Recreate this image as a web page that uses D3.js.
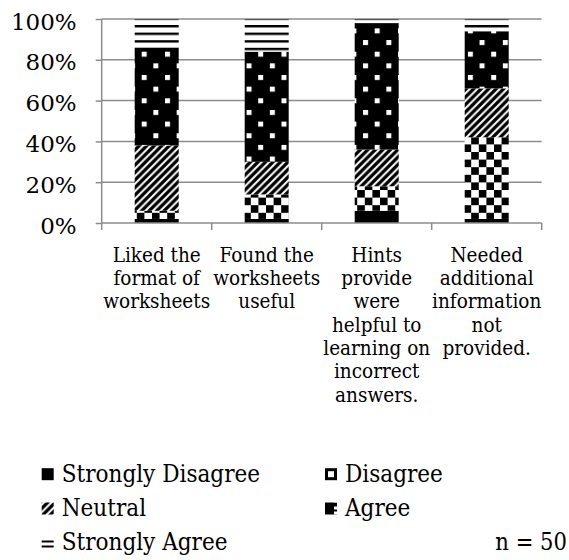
<!DOCTYPE html>
<html><head><meta charset="utf-8">
<script src="https://cdn.jsdelivr.net/npm/d3@7"></script>
<style>body{margin:0;background:#fff}svg{display:block}</style>
</head><body><svg id="c" width="569" height="560"></svg>
<script>
// ---- data ----
const categories = ["Liked the format of worksheets","Found the worksheets useful","Hints provide were helpful to learning on incorrect answers.","Needed additional information not provided."];
const categoryLines = [
  ["Liked the","format of","worksheets"],
  ["Found the","worksheets","useful"],
  ["Hints","provide","were","helpful to","learning on","incorrect","answers."],
  ["Needed","additional","information","not","provided."]
];
const seriesNames = ["Strongly Disagree","Disagree","Neutral","Agree","Strongly Agree"];
const stronglyDisagree = [2, 2, 6, 2];
const disagree        = [4, 12, 12, 40];
const neutral         = [32, 16, 18, 24];
const agree           = [48, 54, 62, 28];
const stronglyAgree   = [14, 16, 2, 6];
const yTicks = [0, 20, 40, 60, 80, 100];
const note = "n = 50";

// ---- build table ----
const seriesValues = [stronglyDisagree, disagree, neutral, agree, stronglyAgree];
const table = categories.map((c, i) => {
  const row = {cat: c};
  seriesNames.forEach((s, k) => row[s] = seriesValues[k][i]);
  return row;
});
const stacked = d3.stack().keys(seriesNames)(table);

const svg = d3.select("#c");
const FONT = "'DejaVu Serif', serif";
const FONTC = "'DejaVu Serif Condensed', 'DejaVu Serif', serif";
const gridColor = "#8c8c8c";

// ---- patterns ----
const defs = svg.append("defs");
const cs = 7.6;
const pD = defs.append("pattern").attr("id","pD").attr("patternUnits","userSpaceOnUse")
  .attr("width", cs*2).attr("height", cs*2).attr("x", 0).attr("y", 0);
pD.append("rect").attr("width", cs*2).attr("height", cs*2).attr("fill","#fff");
pD.append("rect").attr("width", cs).attr("height", cs).attr("fill","#000");
pD.append("rect").attr("x", cs).attr("y", cs).attr("width", cs).attr("height", cs).attr("fill","#000");
const ds = 7.5;
const pN = defs.append("pattern").attr("id","pN").attr("patternUnits","userSpaceOnUse")
  .attr("width", ds).attr("height", ds);
pN.append("rect").attr("width", ds).attr("height", ds).attr("fill","#fff");
pN.append("path").attr("d", `M-1.5,1.5 L1.5,-1.5 M0,${ds} L${ds},0 M${ds-1.5},${ds+1.5} L${ds+1.5},${ds-1.5}`)
  .attr("stroke","#000").attr("stroke-width", 3.3);
const as = 23.3;
const pA = defs.append("pattern").attr("id","pA").attr("patternUnits","userSpaceOnUse")
  .attr("width", as).attr("height", as).attr("x", 141.7).attr("y", 51.7);
pA.append("rect").attr("width", as).attr("height", as).attr("fill","#000");
pA.append("rect").attr("width", 5).attr("height", 5).attr("fill","#fff");
pA.append("rect").attr("x", as/2).attr("y", as/2).attr("width", 5).attr("height", 5).attr("fill","#fff");
const hs = 7.6;
const pSA = defs.append("pattern").attr("id","pSA").attr("patternUnits","userSpaceOnUse")
  .attr("width", 10).attr("height", hs).attr("x", 0).attr("y", 17.4);
pSA.append("rect").attr("width", 10).attr("height", hs).attr("fill","#fff");
pSA.append("rect").attr("width", 10).attr("height", 2.4).attr("fill","#000");

// legend-icon patterns (small)
const pLD = defs.append("pattern").attr("id","pLD").attr("patternUnits","objectBoundingBox")
  .attr("width", 1).attr("height", 1);
pLD.append("rect").attr("width", 12).attr("height", 12).attr("fill","#000");
pLD.append("rect").attr("x", 3).attr("y", 3).attr("width", 6).attr("height", 6).attr("fill","#fff");
const pLA = defs.append("pattern").attr("id","pLA").attr("patternUnits","objectBoundingBox")
  .attr("width", 1).attr("height", 1);
pLA.append("rect").attr("width", 12).attr("height", 12).attr("fill","#000");
pLA.append("rect").attr("x", 9).attr("y", 4).attr("width", 3).attr("height", 3).attr("fill","#fff");
pLA.append("rect").attr("x", 9).attr("y", 9).attr("width", 3).attr("height", 3).attr("fill","#fff");
const pLSA = defs.append("pattern").attr("id","pLSA").attr("patternUnits","objectBoundingBox")
  .attr("width", 1).attr("height", 1);
pLSA.append("rect").attr("width", 12).attr("height", 12).attr("fill","#fff");
pLSA.append("rect").attr("y", 4).attr("width", 12).attr("height", 2).attr("fill","#000");
pLSA.append("rect").attr("y", 9).attr("width", 12).attr("height", 2).attr("fill","#000");

const fills = ["#000", "url(#pD)", "url(#pN)", "url(#pA)", "url(#pSA)"];
const legendFills = ["#000", "url(#pLD)", "url(#pN)", "url(#pLA)", "url(#pLSA)"];

// ---- scales ----
const x0 = 101.7, x1 = 541.7, yTop = 19, yBot = 223;
const x = d3.scaleBand().domain(categories).range([x0, x1]).paddingInner(0.6).paddingOuter(0.3);
const y = d3.scaleLinear().domain([0, 100]).range([yBot, yTop]);

// ---- grid ----
svg.append("g").selectAll("line").data(yTicks.filter(d => d > 0)).join("line")
  .attr("x1", x0).attr("x2", x1).attr("y1", d => y(d)).attr("y2", d => y(d))
  .attr("stroke", gridColor).attr("stroke-width", 1.5);

// ---- bars ----
svg.append("g").selectAll("g").data(stacked).join("g")
  .attr("fill", (d, i) => fills[i])
  .selectAll("rect").data(d => d).join("rect")
  .attr("x", d => x(d.data.cat)).attr("width", x.bandwidth())
  .attr("y", d => y(d[1])).attr("height", d => y(d[0]) - y(d[1]));

// ---- axes ----
const yAxis = svg.append("g").attr("transform", `translate(${x0},0)`)
  .call(d3.axisLeft(y).tickValues(yTicks).tickSize(6).tickPadding(19).tickFormat(d => d + "%"));
yAxis.select(".domain").attr("stroke", gridColor).attr("stroke-width", 1.5).attr("d", `M0,${yTop}V${yBot}`);
yAxis.selectAll(".tick line").attr("stroke", gridColor).attr("stroke-width", 1.5);
yAxis.selectAll(".tick text").attr("font-family", FONT).attr("font-size", 23).attr("fill", "#000").attr("dy", "0.44em");

const step = x.step();
const boundaries = categories.map(c => x(c) - step * x.paddingInner() / 2).concat([x1]);
svg.append("line").attr("x1", x0).attr("x2", x1).attr("y1", yBot).attr("y2", yBot)
  .attr("stroke", gridColor).attr("stroke-width", 1.5);
svg.append("g").selectAll("line").data(boundaries).join("line")
  .attr("x1", d => d).attr("x2", d => d).attr("y1", yBot).attr("y2", yBot + 7)
  .attr("stroke", gridColor).attr("stroke-width", 1.5);

// ---- category labels ----
const lab = svg.append("g").attr("font-family", FONTC).attr("font-stretch","condensed").attr("font-size", 20.5).attr("text-anchor", "middle").attr("fill","#000");
lab.selectAll("text").data(categories).join("text")
  .attr("transform", d => `translate(${x(d) + x.bandwidth()/2},0)`)
  .each(function(d, i) {
    d3.select(this).selectAll("tspan").data(categoryLines[i]).join("tspan")
      .attr("x", 0).attr("y", (t, j) => 261.7 + j * 23.3).text(t => t);
  });

// ---- legend ----
const legendPos = seriesNames.map((s, i) => ({name: s, col: i % 2, row: Math.floor(i / 2), fill: legendFills[i]}));
const lg = svg.append("g").attr("font-family", FONTC).attr("font-stretch","condensed").attr("font-size", 24).attr("fill","#000");
const colX = [41.7, 325], rowY = [481.7, 516, 550];
const items = lg.selectAll("g").data(legendPos).join("g")
  .attr("transform", d => `translate(${colX[d.col]},${rowY[d.row]})`);
items.append("rect").attr("x", 0).attr("y", -13.5).attr("width", 12).attr("height", 12).attr("fill", d => d.fill);
items.append("text").attr("x", 20).attr("y", 0).text(d => d.name);

svg.append("text").attr("x", 567).attr("y", 550).attr("text-anchor","end")
  .attr("font-family", FONTC).attr("font-stretch","condensed").attr("font-size", 23.5).attr("fill","#000").text(note);
</script></body></html>
